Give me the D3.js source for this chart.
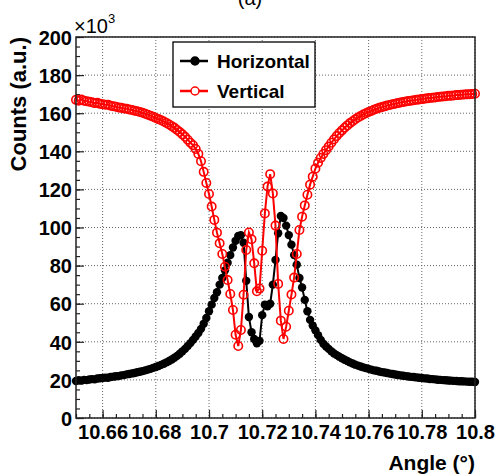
<!DOCTYPE html>
<html>
<head>
<meta charset="utf-8">
<script src="https://cdn.jsdelivr.net/npm/d3@7"></script>
<style>
  body { margin: 0; background: #fff; }
  svg { display: block; font-family: "Liberation Sans", Arial, Helvetica, sans-serif; font-weight: bold; }
</style>
</head>
<body>
<svg id="chart" width="496" height="475"></svg>
<script>
// scan angle (deg), one point per 0.001 deg
var angles = [
    10.650,10.651,10.652,10.653,10.654,10.655,10.656,10.657,10.658,10.659,
    10.660,10.661,10.662,10.663,10.664,10.665,10.666,10.667,10.668,10.669,
    10.670,10.671,10.672,10.673,10.674,10.675,10.676,10.677,10.678,10.679,
    10.680,10.681,10.682,10.683,10.684,10.685,10.686,10.687,10.688,10.689,
    10.690,10.691,10.692,10.693,10.694,10.695,10.696,10.697,10.698,10.699,
    10.700,10.701,10.702,10.703,10.704,10.705,10.706,10.707,10.708,10.709,
    10.710,10.711,10.712,10.713,10.714,10.715,10.716,10.717,10.718,10.719,
    10.720,10.721,10.722,10.723,10.724,10.725,10.726,10.727,10.728,10.729,
    10.730,10.731,10.732,10.733,10.734,10.735,10.736,10.737,10.738,10.739,
    10.740,10.741,10.742,10.743,10.744,10.745,10.746,10.747,10.748,10.749,
    10.750,10.751,10.752,10.753,10.754,10.755,10.756,10.757,10.758,10.759,
    10.760,10.761,10.762,10.763,10.764,10.765,10.766,10.767,10.768,10.769,
    10.770,10.771,10.772,10.773,10.774,10.775,10.776,10.777,10.778,10.779,
    10.780,10.781,10.782,10.783,10.784,10.785,10.786,10.787,10.788,10.789,
    10.790,10.791,10.792,10.793,10.794,10.795,10.796,10.797,10.798,10.799,
    10.800
];

// counts in units of 10^3
var horizontal = [
    19.4,19.8,19.6,20.0,19.9,20.2,20.4,20.3,20.7,20.9,
    21.0,21.2,21.1,21.5,21.7,21.9,22.0,22.4,22.5,22.9,
    23.1,23.4,23.6,24.0,24.3,24.6,25.0,25.4,25.8,26.3,
    26.8,27.3,27.9,28.5,29.2,29.9,30.7,31.6,32.6,33.7,
    35.0,36.3,37.8,39.3,41.0,42.8,44.6,46.8,49.5,52.5,
    56.0,59.5,63.0,66.0,70.0,73.5,77.5,81.5,85.5,89.5,
    93.0,95.5,96.0,92.0,72.0,53.0,45.0,41.5,39.2,40.5,
    54.0,59.5,58.6,60.0,70.0,83.0,97.0,106.0,105.0,101.0,
    96.0,91.0,85.5,80.5,73.5,68.5,62.0,56.0,51.5,48.5,
    46.0,43.5,41.0,39.0,37.5,36.3,35.0,33.9,33.0,32.2,
    31.4,30.6,29.9,29.2,28.6,28.0,27.5,27.0,26.6,26.2,
    25.8,25.4,25.0,24.8,24.4,24.1,23.9,23.6,23.3,23.1,
    22.8,22.6,22.4,22.2,22.0,21.8,21.6,21.5,21.3,21.1,
    21.0,20.8,20.7,20.5,20.4,20.3,20.1,20.0,19.9,19.8,
    19.7,19.6,19.5,19.4,19.3,19.3,19.2,19.1,19.0,19.0,
    18.9
];

var vertical = [
    167.0,166.6,167.2,166.5,166.3,166.0,165.8,165.3,165.5,164.9,
    164.7,164.4,164.5,163.9,163.7,163.4,163.0,162.8,162.5,162.3,
    162.0,161.7,161.3,161.0,160.6,160.2,159.7,159.2,158.7,158.1,
    157.5,156.9,156.3,155.6,154.9,154.1,153.2,152.3,151.2,150.1,
    148.9,147.6,146.1,144.5,143.2,141.2,138.6,134.8,129.2,123.4,
    117.6,111.0,104.0,97.3,91.7,86.1,79.4,72.4,65.1,56.7,
    43.7,37.8,46.2,64.7,88.2,97.4,93.8,81.2,66.5,68.0,
    87.8,107.4,121.5,128.0,117.9,101.0,70.4,51.1,41.5,47.9,
    56.3,64.8,73.7,86.1,98.7,105.7,111.6,117.2,122.5,126.7,
    130.9,134.0,136.5,138.6,140.6,142.5,144.5,146.3,148.0,149.6,
    151.0,152.4,153.6,154.8,155.8,156.8,157.7,158.5,159.3,160.0,
    160.6,161.2,161.8,162.3,162.8,163.2,163.6,164.0,164.3,164.7,
    165.0,165.3,165.6,165.9,166.1,166.4,166.6,166.8,167.0,167.2,
    167.4,167.6,167.8,168.0,168.1,168.3,168.5,168.6,168.8,168.9,
    169.1,169.2,169.3,169.5,169.6,169.7,169.8,169.9,170.0,170.1,
    170.2
];

var seriesNames = ["Horizontal", "Vertical"];
var xTickValues = [10.66, 10.68, 10.7, 10.72, 10.74, 10.76, 10.78, 10.8];
var yTickValues = [0, 20, 40, 60, 80, 100, 120, 140, 160, 180, 200];

var margin = {top: 37, right: 21, bottom: 57, left: 76},
    width = 496, height = 475,
    innerwidth = width - margin.left - margin.right,
    innerheight = height - margin.top - margin.bottom;

var xScale = d3.scaleLinear().domain([10.65, 10.8]).range([0, innerwidth]),
    yScale = d3.scaleLinear().domain([0, 200]).range([innerheight, 0]);

var svg = d3.select("#chart");

// pad title, mostly cut off at the top edge (as in the original)
svg.append("text")
    .attr("x", 250).attr("y", 5)
    .style("text-anchor", "middle")
    .style("font-size", "20px")
    .style("font-weight", "normal")
    .text("(a)");

var wrapper = svg.append("g")
    .attr("transform", "translate(" + margin.left + "," + margin.top + ")");

// dotted grid
var grid = wrapper.append("g").attr("class", "grid");

grid.selectAll("line.gx")
    .data(xTickValues)
    .enter().append("line")
    .attr("class", "gx")
    .attr("x1", function(d) { return xScale(d); })
    .attr("x2", function(d) { return xScale(d); })
    .attr("y1", 0).attr("y2", innerheight);

grid.selectAll("line.gy")
    .data(yTickValues)
    .enter().append("line")
    .attr("class", "gy")
    .attr("x1", 0).attr("x2", innerwidth)
    .attr("y1", function(d) { return yScale(d); })
    .attr("y2", function(d) { return yScale(d); });

grid.selectAll("line")
    .attr("stroke", "#666")
    .attr("stroke-width", 1)
    .attr("stroke-dasharray", "1,2");

// axes: ticks point into the frame
var xAxis = d3.axisBottom(xScale)
        .tickValues(xTickValues)
        .tickFormat(d3.format(""))
        .tickSizeInner(-8).tickSizeOuter(0).tickPadding(7),
    xMinor = d3.axisBottom(xScale)
        .ticks(30).tickFormat("")
        .tickSizeInner(-4).tickSizeOuter(0),
    yAxis = d3.axisLeft(yScale)
        .tickValues(yTickValues)
        .tickSizeInner(-8).tickSizeOuter(0).tickPadding(4),
    yMinor = d3.axisLeft(yScale)
        .ticks(40).tickFormat("")
        .tickSizeInner(-4).tickSizeOuter(0);

[xMinor, xAxis].forEach(function(ax) {
    wrapper.append("g")
        .attr("class", "x axis")
        .attr("transform", "translate(0," + innerheight + ")")
        .call(ax);
});
[yMinor, yAxis].forEach(function(ax) {
    wrapper.append("g")
        .attr("class", "y axis")
        .call(ax);
});

wrapper.selectAll(".axis .domain").remove();
wrapper.selectAll(".axis line").attr("stroke", "#222").attr("stroke-width", 1.2);
wrapper.selectAll(".axis text")
    .attr("fill", "#000")
    .style("font-family", "'Liberation Sans', Arial, sans-serif")
    .style("font-weight", "bold")
    .style("font-size", "20px");
wrapper.selectAll(".y.axis text").attr("dy", "0.36em");

// exponent label
var expo = svg.append("text")
    .attr("x", 74).attr("y", 33)
    .style("font-size", "20px")
    .style("font-weight", "normal");
expo.append("tspan").text("\u00d710");
expo.append("tspan").attr("dy", -10).style("font-size", "13px").text("3");

// data
var line = d3.line()
    .x(function(d) { return xScale(d[0]); })
    .y(function(d) { return yScale(d[1]); });

var series = [
    {name: seriesNames[0], values: d3.zip(angles, horizontal), color: "#000", filled: true},
    {name: seriesNames[1], values: d3.zip(angles, vertical), color: "#ff0000", filled: false}
];

var content = wrapper.append("g").attr("class", "content");

series.forEach(function(s) {
    var g = content.append("g");
    g.append("path")
        .datum(s.values)
        .attr("fill", "none")
        .attr("stroke", s.color)
        .attr("stroke-width", 2)
        .attr("d", line);
    g.selectAll("circle")
        .data(s.values)
        .enter().append("circle")
        .attr("cx", function(d) { return xScale(d[0]); })
        .attr("cy", function(d) { return yScale(d[1]); })
        .attr("r", s.filled ? 4.2 : 4.2)
        .attr("fill", s.filled ? s.color : "none")
        .attr("stroke", s.color)
        .attr("stroke-width", s.filled ? 0 : 1.6);
});

// frame
wrapper.append("rect")
    .attr("width", innerwidth).attr("height", innerheight)
    .attr("fill", "none")
    .attr("stroke", "#222")
    .attr("stroke-width", 1.5);

// axis titles (right aligned, ROOT style)
svg.append("text")
    .attr("x", margin.left + innerwidth).attr("y", 470)
    .style("text-anchor", "end")
    .style("font-size", "21px")
    .text("Angle (\u00b0)");

svg.append("text")
    .attr("transform", "translate(26," + margin.top + ") rotate(-90)")
    .style("text-anchor", "end")
    .style("font-size", "22px")
    .text("Counts (a.u.)");

// legend
var legend = svg.append("g").attr("transform", "translate(173,42)");
legend.append("rect")
    .attr("width", 142).attr("height", 65)
    .attr("fill", "#fff")
    .attr("stroke", "#000")
    .attr("stroke-width", 1.3);

var entry = legend.selectAll("g.entry")
    .data(series)
    .enter().append("g")
    .attr("class", "entry")
    .attr("transform", function(d, i) { return "translate(0," + (19 + i * 30) + ")"; });

entry.append("line")
    .attr("x1", 7).attr("x2", 35)
    .attr("stroke", function(d) { return d.color; })
    .attr("stroke-width", 2.5);
entry.append("circle")
    .attr("cx", 22).attr("r", 4)
    .attr("fill", function(d) { return d.filled ? d.color : "#fff"; })
    .attr("stroke", function(d) { return d.color; })
    .attr("stroke-width", 1.5);
entry.append("text")
    .attr("x", 44).attr("dy", "0.36em")
    .style("font-size", "19px")
    .text(function(d) { return d.name; });
</script>
</body>
</html>
